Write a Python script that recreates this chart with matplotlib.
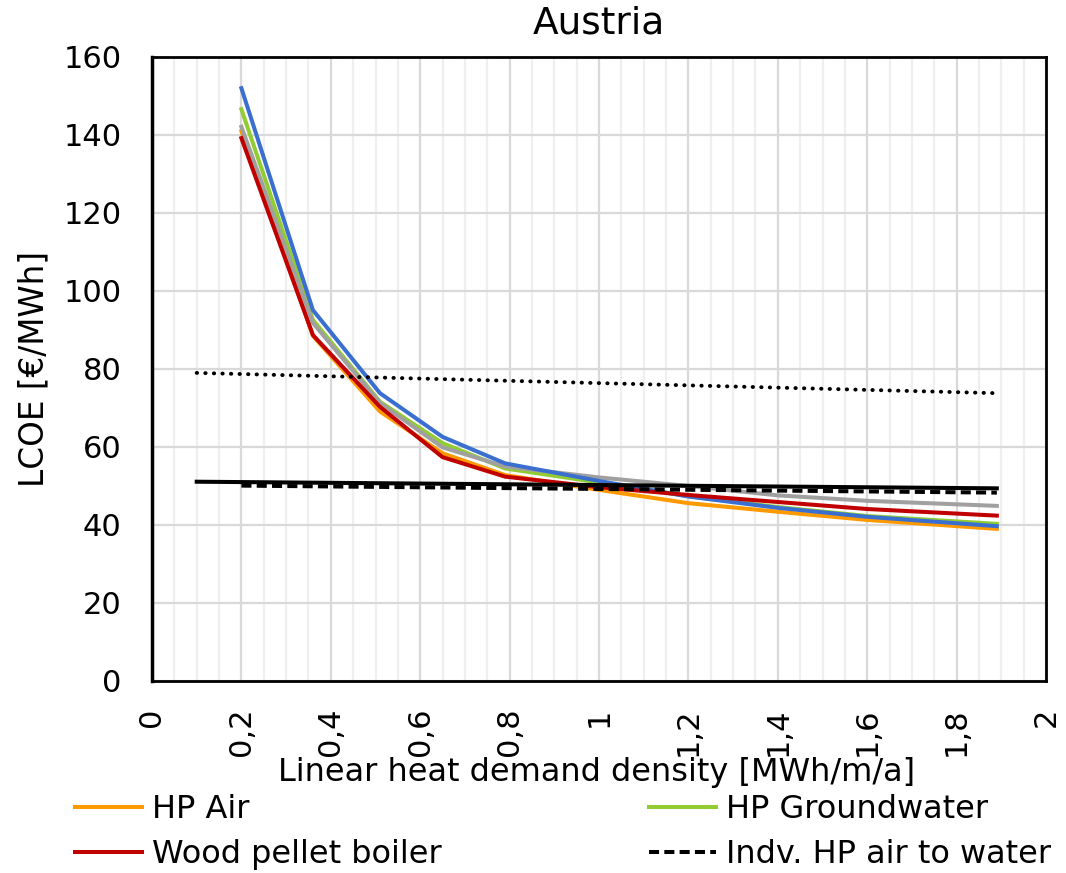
import matplotlib
matplotlib.use("Agg")
import matplotlib.pyplot as plt
from matplotlib.ticker import FixedLocator, MultipleLocator

plt.rcParams['font.family'] = ['DejaVu Sans']

# Data
x_dh = [0.2, 0.36, 0.51, 0.65, 0.79, 1.0, 1.2, 1.4, 1.6, 1.89]
hp_air = [141.0, 88.5, 69.1, 58.4, 52.8, 49.0, 45.6, 43.4, 41.3, 39.0]
hp_ground = [146.6, 92.6, 71.6, 61.0, 54.5, 50.9, 47.4, 44.6, 42.3, 40.3]
wood_pellet = [139.2, 88.7, 70.3, 57.4, 52.4, 49.7, 47.7, 45.9, 44.1, 42.4]
blue_series = [152.0, 95.1, 73.8, 62.6, 55.8, 51.3, 47.3, 44.4, 42.1, 39.7]
gray_series = [142.1, 91.8, 71.3, 59.9, 55.0, 52.2, 50.0, 47.6, 46.2, 44.9]

x_black = [0.1, 1.89]
black_solid = [51.1, 49.4]
x_dashed = [0.2, 1.89]
indv_hp = [50.1, 48.3]
x_dotted = [0.1, 1.89]
black_dotted = [79.0, 73.8]

x_ticks = [0, 0.2, 0.4, 0.6, 0.8, 1.0, 1.2, 1.4, 1.6, 1.8, 2.0]
x_ticklabels = ["0", "0,2", "0,4", "0,6", "0,8", "1", "1,2", "1,4", "1,6", "1,8", "2"]
y_ticks = [0, 20, 40, 60, 80, 100, 120, 140, 160]

fig = plt.figure(figsize=(10.66, 8.73), dpi=100)
ax = fig.add_axes([152/1066, 1-681/873, (1046-152)/1066, (681-57)/873])

ax.set_xlim(0, 2)
ax.set_ylim(0, 160)

ax.xaxis.set_major_locator(FixedLocator(x_ticks))
ax.xaxis.set_minor_locator(MultipleLocator(0.05))
ax.yaxis.set_major_locator(FixedLocator(y_ticks))
ax.set_xticklabels(x_ticklabels, rotation=90)
ax.grid(which='major', axis='both', color='#d9d9d9', lw=1.6, zorder=0)
ax.grid(which='minor', axis='x', color='#efefef', lw=1.6, zorder=0)
ax.set_axisbelow(True)
ax.tick_params(which='both', length=0, labelsize=22)
ax.tick_params(axis='y', pad=22)
ax.tick_params(axis='x', pad=19)

for s in ax.spines.values():
    s.set_color('black')
    s.set_linewidth(2)
ax.spines['left'].set_linewidth(2.5)

lw = 2.9
l_air, = ax.plot(x_dh, hp_air, color='#FF9900', lw=lw, label='HP Air')
l_ground, = ax.plot(x_dh, hp_ground, color='#92CC33', lw=lw, label='HP Groundwater')
l_gray, = ax.plot(x_dh, gray_series, color='#A0A0A0', lw=lw)
l_blue, = ax.plot(x_dh, blue_series, color='#3A6FD0', lw=lw)
l_wood, = ax.plot(x_dh, wood_pellet, color='#C00000', lw=lw, label='Wood pellet boiler')
ax.plot(x_black, black_solid, color='black', lw=lw)
l_indv, = ax.plot(x_dashed, indv_hp, color='black', lw=lw, ls=(0, (2.5, 1.3)), label='Indv. HP air to water')
ax.plot(x_dotted, black_dotted, color='black', lw=2.8, ls=(0, (0.1, 2.1)), dash_capstyle='round')

ax.set_title('Austria', fontsize=27, pad=17)
ax.set_ylabel('LCOE [€/MWh]', fontsize=23.5)
ax.yaxis.set_label_coords(-(152-50)/894, 0.5)
fig.text(597/1066, 1-772/873, 'Linear heat demand density [MWh/m/a]', fontsize=23,
         ha='center', va='center')

fig.legend(handles=[l_air, l_wood, l_ground, l_indv], ncol=2, fontsize=23,
           loc='upper left', bbox_to_anchor=(75/1066, 1-794/873),
           frameon=False, handlelength=2.1, handletextpad=0.3,
           columnspacing=6.5, labelspacing=0.44, borderpad=0, borderaxespad=0)

fig.savefig('out.png', dpi=100)
